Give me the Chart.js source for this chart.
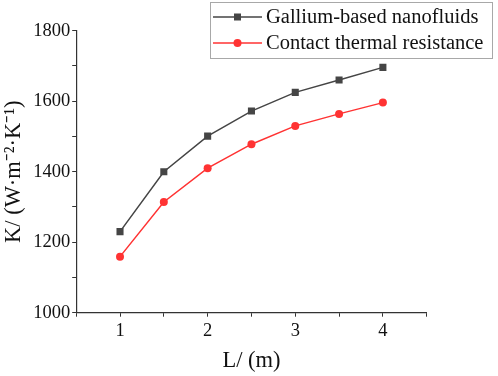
<!DOCTYPE html>
<html>
<head>
<meta charset="utf-8">
<script src="https://cdn.jsdelivr.net/npm/chart.js@4/dist/chart.umd.min.js"></script>
<style>
  html, body { margin: 0; padding: 0; background: #fff; }
  #wrap { width: 498px; height: 376px; position: relative; }
</style>
</head>
<body>
<div id="wrap"><canvas id="c" width="498" height="376"></canvas></div>
<script>
const lengths = [1, 1.5, 2, 2.5, 3, 3.5, 4];
const gallium = [1230, 1400, 1501, 1572, 1625, 1660, 1696];
const contact = [1159, 1314, 1410, 1478, 1530, 1564, 1596];
const seriesNames = ['Gallium-based nanofluids', 'Contact thermal resistance'];
const xTitle = 'L/ (m)';
const yTitle = 'K/ (W\u00B7m\u207B\u00B2\u00B7K\u207B\u00B9)';

const GRAY = '#454545';
const RED = '#ff3333';
const FONT = '"Liberation Serif", "Times New Roman", serif';

const toPts = (ys) => lengths.map((x, i) => ({ x, y: ys[i] }));

const boxLegend = {
  id: 'boxLegend',
  afterDraw(chart) {
    const ctx = chart.ctx;
    ctx.save();
    const bx = 210.5, by = 2.5, bw = 282, bh = 56;
    ctx.strokeStyle = '#a8a8a8';
    ctx.lineWidth = 1;
    ctx.strokeRect(bx, by, bw, bh);
    const rows = [
      { y: 17, color: GRAY, style: 'rect', label: seriesNames[0] },
      { y: 43, color: RED, style: 'circle', label: seriesNames[1] }
    ];
    ctx.font = '20.5px ' + FONT;
    ctx.textBaseline = 'middle';
    rows.forEach(r => {
      ctx.strokeStyle = r.color;
      ctx.lineWidth = 1.5;
      ctx.beginPath();
      ctx.moveTo(213, r.y);
      ctx.lineTo(262, r.y);
      ctx.stroke();
      ctx.fillStyle = r.color;
      if (r.style === 'rect') {
        ctx.fillRect(237.5 - 3.5, r.y - 3.5, 7, 7);
      } else {
        ctx.beginPath();
        ctx.arc(237.5, r.y, 4, 0, Math.PI * 2);
        ctx.fill();
      }
      ctx.fillStyle = '#111';
      ctx.fillText(r.label, 266, r.y + 1);
    });
    ctx.restore();
  }
};

new Chart(document.getElementById('c'), {
  type: 'line',
  data: {
    datasets: [
      {
        label: seriesNames[0],
        data: toPts(gallium),
        borderColor: GRAY,
        backgroundColor: GRAY,
        borderWidth: 1.5,
        pointStyle: 'rect',
        pointRadius: 5,
        pointBorderWidth: 0,
        tension: 0
      },
      {
        label: seriesNames[1],
        data: toPts(contact),
        borderColor: RED,
        backgroundColor: RED,
        borderWidth: 1.5,
        pointStyle: 'circle',
        pointRadius: 4,
        pointBorderWidth: 0,
        tension: 0
      }
    ]
  },
  options: {
    responsive: false,
    animation: false,
    layout: { padding: { top: 30.7, right: 71.3, left: 0, bottom: 0 } },
    plugins: { legend: { display: false }, tooltip: { enabled: false } },
    scales: {
      x: {
        type: 'linear',
        min: 0.5,
        max: 4.5,
        afterFit(s) { s.height = 63.3; },
        border: { display: true, color: '#333', width: 1.2 },
        grid: { drawOnChartArea: false, drawTicks: true, tickLength: 4, color: '#333' },
        ticks: {
          stepSize: 0.5,
          autoSkip: false,
          maxRotation: 0,
          padding: 3,
          color: '#111',
          font: { family: FONT, size: 18.5 },
          callback: (v) => Number.isInteger(v) ? String(v) : ''
        },
        title: {
          display: true,
          text: xTitle,
          color: '#111',
          font: { family: FONT, size: 22.5 },
          padding: { top: 0, bottom: 1 }
        }
      },
      y: {
        min: 1000,
        max: 1800,
        afterFit(s) { s.width = 76.2; },
        border: { display: true, color: '#333', width: 1.2 },
        grid: { drawOnChartArea: false, drawTicks: true, tickLength: 4, color: '#333' },
        ticks: {
          stepSize: 100,
          autoSkip: false,
          padding: 2,
          color: '#111',
          font: { family: FONT, size: 18.5 },
          callback: (v) => (v % 200 === 0) ? String(v) : ''
        },
        title: {
          display: true,
          text: yTitle,
          color: '#111',
          font: { family: FONT, size: 22.5 },
          padding: { top: 1, bottom: 0 }
        }
      }
    }
  },
  plugins: [boxLegend]
});
</script>
</body>
</html>
